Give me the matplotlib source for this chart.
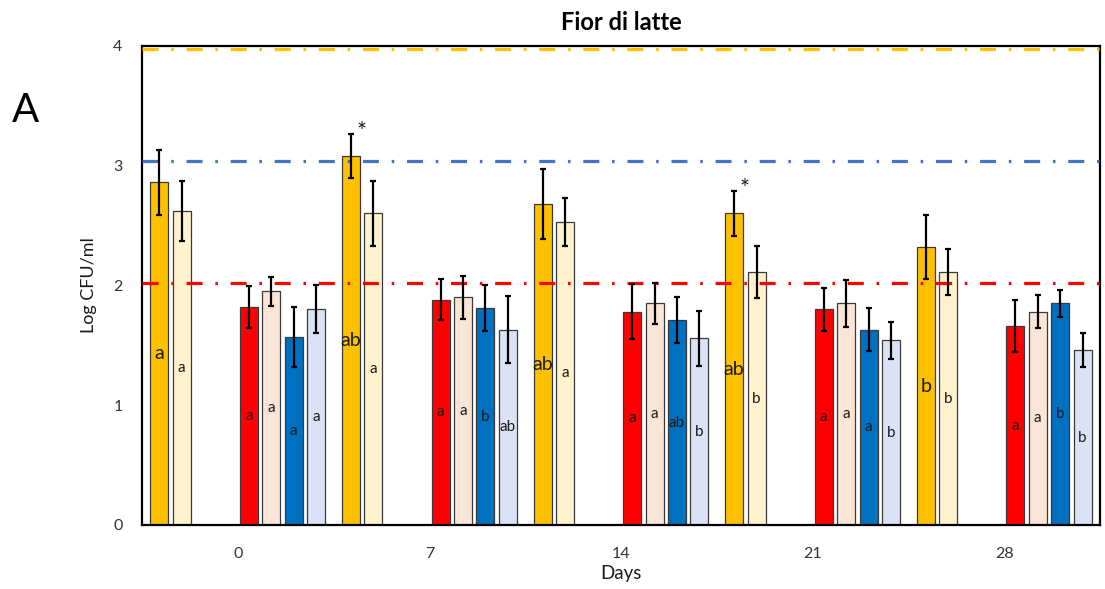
import matplotlib
matplotlib.use("Agg")
import matplotlib.pyplot as plt
import numpy as np

plt.rcParams['font.family'] = ['Lato', 'DejaVu Sans']

# Sampling days (categories)
days = ['0', '7', '14', '21', '28']

# Mean counts (Log CFU/ml) per series and day
orange_mean = [2.86, 3.08, 2.68, 2.60, 2.32]
lightyellow_mean = [2.62, 2.60, 2.53, 2.11, 2.11]
red_mean = [1.82, 1.88, 1.78, 1.80, 1.66]
peach_mean = [1.95, 1.90, 1.85, 1.85, 1.78]
blue_mean = [1.57, 1.81, 1.71, 1.63, 1.85]
lightblue_mean = [1.80, 1.63, 1.56, 1.54, 1.46]

# Standard deviations
orange_sd = [0.27, 0.185, 0.295, 0.19, 0.265]
lightyellow_sd = [0.25, 0.27, 0.20, 0.215, 0.19]
red_sd = [0.175, 0.17, 0.23, 0.18, 0.215]
peach_sd = [0.12, 0.18, 0.17, 0.195, 0.136]
blue_sd = [0.25, 0.19, 0.19, 0.18, 0.11]
lightblue_sd = [0.20, 0.28, 0.23, 0.155, 0.145]

# Significance letters
orange_letters = ['a', 'ab', 'ab', 'ab', 'b']
lightyellow_letters = ['a', 'a', 'a', 'b', 'b']
red_letters = ['a', 'a', 'a', 'a', 'a']
peach_letters = ['a', 'a', 'a', 'a', 'a']
blue_letters = ['a', 'b', 'ab', 'a', 'b']
lightblue_letters = ['a', 'ab', 'b', 'b', 'b']

# Days marked with an asterisk on the orange series
orange_star = [False, True, False, True, False]

# Reference threshold lines
threshold_orange = 3.97
threshold_blue = 3.04
threshold_red = 2.02

series = [
    (orange_mean, orange_sd, orange_letters, '#FFC000', 0, 14),
    (lightyellow_mean, lightyellow_sd, lightyellow_letters, '#FFF2CC', 1, 11),
    (red_mean, red_sd, red_letters, '#FF0000', 4, 11),
    (peach_mean, peach_sd, peach_letters, '#FBE5D6', 5, 11),
    (blue_mean, blue_sd, blue_letters, '#0070C0', 6, 11),
    (lightblue_mean, lightblue_sd, lightblue_letters, '#DAE3F3', 7, 11),
]

fig = plt.figure(figsize=(11.05, 5.89), dpi=100)
ax = fig.add_axes([142 / 1105, 64 / 589, 958 / 1105, 479.3 / 589])

x = np.arange(len(days))
slot = 0.1169
width = 0.094

for mean, sd, letters, color, slot_idx, fs in series:
    xs = x + (slot_idx - 3.5) * slot
    ax.bar(xs, mean, width=width, color=color, edgecolor='#3a3a3a',
           linewidth=0.9, zorder=2)
    ax.errorbar(xs, mean, yerr=sd, fmt='none', ecolor='black',
                elinewidth=1.6, capsize=2.5, capthick=1.6, zorder=4)
    for xi, m, lab in zip(xs, mean, letters):
        ax.text(xi, m / 2, lab, ha='center', va='center', fontsize=fs,
                color='#1a1a1a', zorder=5)

# Asterisks above the orange bars
xs_orange = x + (0 - 3.5) * slot
for xi, m, s, star in zip(xs_orange, orange_mean, orange_sd, orange_star):
    if star:
        ax.text(xi + 0.055, m + s + 0.02, '*', ha='center', va='center',
                fontsize=17, color='#1a1a1a', zorder=5)

# Threshold lines
dash_style = (0, (5, 4, 0.8, 4))
ax.axhline(threshold_orange, color='#FFC000', lw=2.3, linestyle=dash_style, zorder=3)
ax.axhline(threshold_blue, color='#4472C4', lw=2.3, linestyle=dash_style, zorder=3)
ax.axhline(threshold_red, color='#FF0000', lw=2.3, linestyle=dash_style, zorder=3)

ax.set_xlim(-0.5, len(days) - 0.5)
ax.set_ylim(0, 4)
ax.set_yticks([0, 1, 2, 3, 4])
ax.set_xticks(x)
ax.set_xticklabels(days)
ax.tick_params(axis='y', length=0, labelsize=11.5, colors='#333333', pad=14)
ax.tick_params(axis='x', length=0, labelsize=11.5, colors='#333333', pad=16)
for sp in ax.spines.values():
    sp.set_color('black')
    sp.set_linewidth(1.6)

ax.set_xlabel('Days', fontsize=13.5, color='#1a1a1a', labelpad=3)
ax.set_ylabel('Log CFU/ml', fontsize=13, color='#1a1a1a', labelpad=12)
ax.set_title('Fior di latte', fontsize=17, fontweight='bold', pad=11)

fig.text(25 / 1105, 1 - 110 / 589, 'A', fontsize=29, ha='center', va='center')

fig.savefig('out.png', dpi=100)
